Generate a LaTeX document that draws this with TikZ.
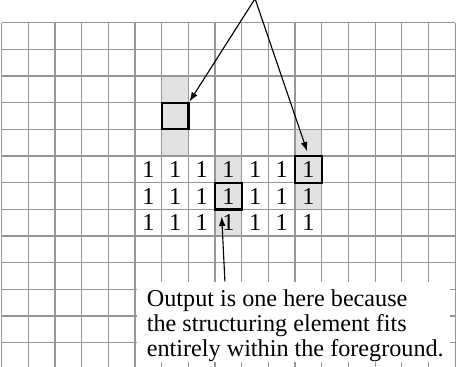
\documentclass[tikz,border=0pt]{standalone}
\usepackage{fontspec}
\setmainfont{Liberation Serif}
\usetikzlibrary{arrows.meta,positioning}
\definecolor{gridgray}{RGB}{150,150,150}
\definecolor{shadegray}{RGB}{226,226,226}

\begin{document}
\begin{tikzpicture}[
  x=0.5cm, y=-0.5cm,
  cellline/.style={gridgray, line width=0.6pt},
  shade/.style={fill=shadegray},
  sebox/.style={draw, line width=1.2pt, minimum size=0.5cm, inner sep=0pt},
  one/.style={inner sep=0pt, font=\fontsize{12.9}{13.3}\selectfont},
  notebox/.style={fill=white, inner sep=0pt, minimum width=5.88cm, minimum height=1.5cm},
  notetext/.style={align=left, inner sep=0pt, font=\fontsize{12.9}{13.3}\selectfont},
  arr/.style={-{Latex[length=5pt,width=3.6pt]}, line width=0.6pt}
]
\useasboundingbox (-0.064,-0.851) rectangle (17.035,12.91);
\clip (-0.064,-0.851) rectangle (17.035,12.91);

% shaded footprints of the structuring element
\fill[shade] (6,2) rectangle (7,5);
\fill[shade] (11,4) rectangle (12,7);
\fill[shade] (8,5) rectangle (9,8);

% image grid
\foreach \c in {0,...,17}
  \draw[cellline] (\c,0) -- (\c,13.5);
\foreach \r in {0,...,13}
  \draw[cellline] (0,\r) -- (17,\r);

% foreground pixels
\foreach \r in {5,6,7}
  \foreach \c in {5,...,11}
    \node[one] (one-\r-\c) at (\c+0.5,\r+0.5) {1};

% structuring element origins
\node[sebox] (seout) at (6.5,3.5) {};
\node[sebox] (seedge) at (11.5,5.5) {};
\node[sebox] (sein) at (8.5,6.5) {};

\coordinate (apex) at (9.5,-0.9);
\draw[arr] (apex) -- (seout.north east);
\draw[arr, shorten >=2pt] (apex) -- (seedge.north);

\node[notebox, anchor=north west] (note) at (5.05,9.71) {};
\node[notetext, anchor=north west] (notetext) at ([xshift=0.19cm]note.north west)
  {\rule{0pt}{13.3pt}Output is one here because\\
   the structuring element fits\\
   entirely within the foreground.};

\coordinate (tail) at (8.37,9.71);
\coordinate (tip) at (8.25,7.27);
\draw[arr] (tail) -- (tip);
\end{tikzpicture}
\end{document}
